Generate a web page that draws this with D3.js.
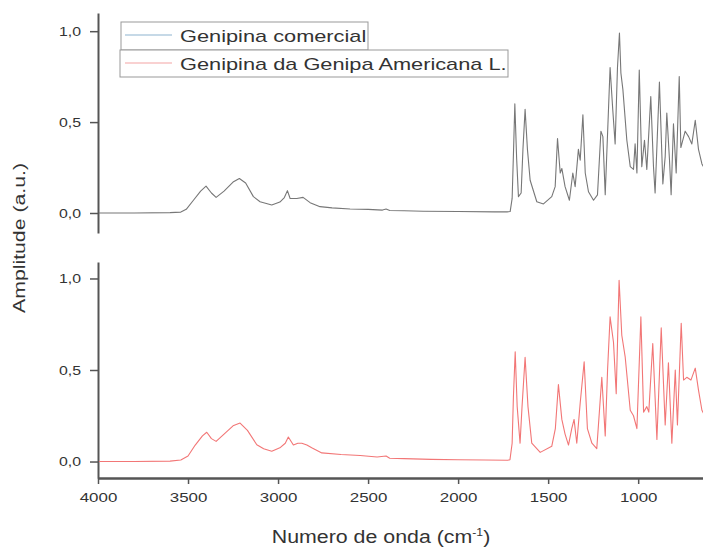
<!DOCTYPE html>
<html>
<head>
<meta charset="utf-8">
<script src="https://cdn.jsdelivr.net/npm/d3@7"></script>
<style>
  body { margin: 0; background: #fff; }
  text { font-family: "Liberation Sans", Arial, sans-serif; fill: #333; }
</style>
</head>
<body>
<svg id="chart" width="703" height="547"></svg>
<script>
// spectra (wavenumber in cm-1, amplitude in a.u.)
var wnComercial = [4000, 3800, 3600, 3540, 3510, 3470, 3430, 3400, 3370, 3344, 3300, 3250, 3215, 3180, 3137, 3100, 3035, 2990, 2965, 2948, 2933, 2896, 2861, 2822, 2767, 2700, 2600, 2500, 2420, 2400, 2380, 2300, 2194, 2000, 1800, 1728, 1711, 1700, 1692, 1685, 1675, 1665, 1650, 1640, 1628, 1615, 1600, 1563, 1526, 1480, 1461, 1448, 1433, 1424, 1406, 1382, 1363, 1350, 1332, 1322, 1307, 1294, 1276, 1248, 1226, 1207, 1196, 1183, 1165, 1156, 1141, 1128, 1115, 1104, 1096, 1085, 1063, 1044, 1026, 1017, 1007, 994, 980, 965, 952, 930, 915, 906, 882, 863, 850, 841, 826, 817, 804, 789, 772, 763, 739, 720, 702, 683, 665, 646, 635];
var ampComercial = [0.0, 0.0, 0.002, 0.005, 0.02, 0.07, 0.12, 0.148, 0.11, 0.086, 0.12, 0.17, 0.19, 0.165, 0.09, 0.062, 0.044, 0.06, 0.085, 0.123, 0.08, 0.08, 0.086, 0.057, 0.035, 0.028, 0.022, 0.02, 0.016, 0.022, 0.014, 0.012, 0.01, 0.008, 0.006, 0.006, 0.008, 0.08, 0.35, 0.60, 0.3, 0.09, 0.11, 0.35, 0.57, 0.35, 0.18, 0.062, 0.05, 0.09, 0.145, 0.41, 0.22, 0.245, 0.145, 0.07, 0.22, 0.145, 0.35, 0.29, 0.54, 0.22, 0.117, 0.07, 0.1, 0.45, 0.42, 0.1, 0.566, 0.80, 0.566, 0.38, 0.80, 0.99, 0.77, 0.68, 0.40, 0.255, 0.24, 0.38, 0.22, 0.786, 0.255, 0.40, 0.24, 0.64, 0.255, 0.11, 0.72, 0.16, 0.31, 0.55, 0.29, 0.1, 0.49, 0.22, 0.75, 0.36, 0.45, 0.42, 0.38, 0.51, 0.35, 0.27, 0.25];

var wnAmericana = [4000, 3800, 3600, 3540, 3500, 3460, 3420, 3396, 3370, 3344, 3300, 3250, 3211, 3170, 3118, 3080, 3035, 2990, 2960, 2943, 2915, 2890, 2868, 2840, 2813, 2757, 2650, 2544, 2450, 2400, 2380, 2300, 2150, 2000, 1850, 1725, 1712, 1700, 1693, 1683, 1672, 1656, 1645, 1628, 1612, 1591, 1544, 1480, 1460, 1443, 1424, 1406, 1387, 1369, 1356, 1341, 1322, 1300, 1282, 1257, 1230, 1202, 1183, 1170, 1156, 1137, 1122, 1106, 1091, 1072, 1044, 1026, 1007, 985, 970, 952, 941, 919, 896, 872, 850, 832, 813, 794, 782, 761, 748, 730, 707, 683, 665, 646, 635];
var ampAmericana = [0.0, 0.0, 0.002, 0.008, 0.03, 0.09, 0.14, 0.16, 0.125, 0.11, 0.15, 0.195, 0.21, 0.17, 0.092, 0.07, 0.056, 0.075, 0.1, 0.134, 0.09, 0.1, 0.1, 0.09, 0.075, 0.047, 0.038, 0.033, 0.025, 0.03, 0.018, 0.016, 0.012, 0.01, 0.008, 0.007, 0.01, 0.1, 0.35, 0.60, 0.3, 0.10, 0.3, 0.57, 0.3, 0.10, 0.05, 0.083, 0.18, 0.42, 0.23, 0.15, 0.09, 0.18, 0.23, 0.1, 0.32, 0.545, 0.18, 0.1, 0.07, 0.46, 0.14, 0.5, 0.79, 0.65, 0.37, 0.99, 0.69, 0.57, 0.28, 0.25, 0.18, 0.79, 0.27, 0.30, 0.27, 0.645, 0.12, 0.73, 0.2, 0.54, 0.1, 0.5, 0.2, 0.755, 0.445, 0.46, 0.445, 0.51, 0.39, 0.28, 0.26];

var seriesNames = ["Genipina comercial", "Genipina da Genipa Americana L."];
var yTickValues = [0, 0.5, 1.0];
var yMinorValues = [0.25, 0.75];
var xTickValues = [4000, 3500, 3000, 2500, 2000, 1500, 1000];
var xMinorValues = [3750, 3250, 2750, 2250, 1750, 1250, 750];

var svg = d3.select("#chart");

var x = d3.scaleLinear().domain([4000, 640]).range([98, 703]);
var yTop = d3.scaleLinear().domain([-0.11, 1.1]).range([233, 13]);
var yBot = d3.scaleLinear().domain([-0.09, 1.09]).range([478, 262]);

var commaFmt = function (d) { return d3.format(".1f")(d).replace(".", ","); };

// the picture is stretched sideways, so stretch the text with it
function stretch(sel, k) {
  sel.each(function () {
    var len = this.getComputedTextLength();
    d3.select(this).attr("textLength", len * k).attr("lengthAdjust", "spacingAndGlyphs");
  });
}

function drawYAxis(y) {
  var g = svg.append("g").attr("transform", "translate(98,0)");
  g.call(d3.axisLeft(y).tickValues(yMinorValues).tickSize(3).tickSizeOuter(0).tickFormat(""));
  g.call(d3.axisLeft(y).tickValues(yTickValues).tickSize(8).tickSizeOuter(0).tickFormat(commaFmt).tickPadding(9));
  g.selectAll("path.domain").attr("stroke", "#555").attr("stroke-width", 2);
  g.selectAll(".tick line").attr("stroke", "#555").attr("stroke-width", 1.5);
  g.selectAll(".tick text").style("font-size", "13px").attr("fill", "#333");
  stretch(g.selectAll(".tick text"), 1.22);
}

drawYAxis(yTop);
drawYAxis(yBot);

var gx = svg.append("g").attr("transform", "translate(0,478)");
gx.call(d3.axisBottom(x).tickValues(xMinorValues).tickSize(3).tickSizeOuter(0).tickFormat(""));
gx.call(d3.axisBottom(x).tickValues(xTickValues).tickSize(6).tickSizeOuter(0).tickFormat(d3.format("d")).tickPadding(9));
gx.selectAll("path.domain").attr("stroke", "#555").attr("stroke-width", 2.5);
gx.selectAll(".tick line").attr("stroke", "#555").attr("stroke-width", 1.5);
gx.selectAll(".tick text").style("font-size", "13px").attr("fill", "#333");
stretch(gx.selectAll(".tick text"), 1.3);

svg.append("clipPath").attr("id", "plotClip")
  .append("rect").attr("x", 99).attr("y", 0).attr("width", 610).attr("height", 480);

function drawSpectrum(wn, amp, y, color) {
  var pts = wn.map(function (w, i) { return [w, amp[i]]; });
  var line = d3.line().x(function (d) { return x(d[0]); }).y(function (d) { return y(d[1]); });
  svg.append("path")
    .datum(pts)
    .attr("clip-path", "url(#plotClip)")
    .attr("fill", "none")
    .attr("stroke", color)
    .attr("stroke-width", 1.1)
    .attr("stroke-linejoin", "round")
    .attr("d", line);
}

drawSpectrum(wnComercial, ampComercial, yTop, "#777777");
drawSpectrum(wnAmericana, ampAmericana, yBot, "#f27676");

// legend
var legendColors = ["#8db3cf", "#f4a3a3"];
var legendBoxes = [[121, 22, 247, 28], [120, 50, 388, 27]];
var legend = svg.append("g");
seriesNames.forEach(function (name, i) {
  var b = legendBoxes[i];
  legend.append("rect")
    .attr("x", b[0]).attr("y", b[1]).attr("width", b[2]).attr("height", b[3])
    .attr("fill", "#fff").attr("stroke", "#999").attr("stroke-width", 1);
  legend.append("line")
    .attr("x1", 125).attr("x2", 172)
    .attr("y1", b[1] + 13).attr("y2", b[1] + 13)
    .attr("stroke", legendColors[i]).attr("stroke-width", 1.2);
  var t = legend.append("text")
    .attr("x", 180).attr("y", b[1] + 20)
    .style("font-size", "17px")
    .attr("fill", "#333")
    .text(name);
  stretch(t, 1.28);
});

// axis titles
var xt = svg.append("text")
  .attr("x", 381).attr("y", 543)
  .attr("text-anchor", "middle")
  .style("font-size", "17.5px")
  .attr("fill", "#333");
xt.append("tspan").text("Numero de onda (cm");
xt.append("tspan").attr("dy", -7).style("font-size", "10px").text("-1");
xt.append("tspan").attr("dy", 7).text(")");
stretch(xt, 1.22);

var yt = svg.append("text")
  .attr("transform", "translate(25,238) rotate(-90)")
  .attr("text-anchor", "middle")
  .style("font-size", "16px")
  .attr("fill", "#333")
  .text("Amplitude (a.u.)");
yt.attr("textLength", 150).attr("lengthAdjust", "spacingAndGlyphs");
</script>
</body>
</html>
